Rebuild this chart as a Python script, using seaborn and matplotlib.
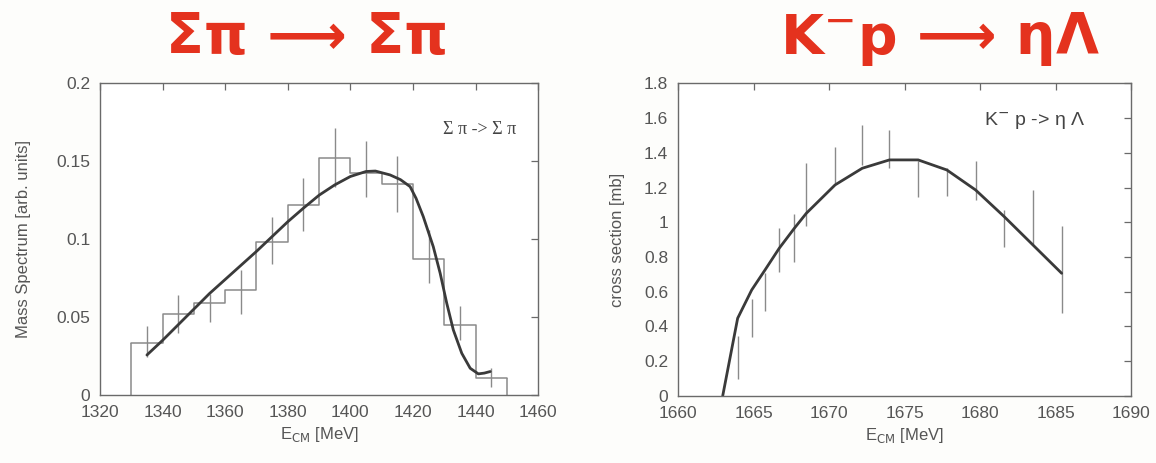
import matplotlib
matplotlib.use("Agg")
import matplotlib.pyplot as plt
import numpy as np
import pandas as pd
import seaborn as sns
from matplotlib.ticker import FuncFormatter, MultipleLocator

# ---- Sigma pi -> Sigma pi : mass spectrum (10 MeV bins) ----
bin_edges = [1330, 1340, 1350, 1360, 1370, 1380, 1390, 1400, 1410, 1420, 1430, 1440, 1450]
spectrum = [0.033, 0.052, 0.059, 0.067, 0.098, 0.122, 0.152, 0.142, 0.135, 0.087, 0.045, 0.011]
spec_err_x = [1335, 1345, 1355, 1365, 1375, 1385, 1395, 1405, 1415, 1425, 1435, 1445]
spec_err_y = [0.034, 0.052, 0.056, 0.066, 0.099, 0.122, 0.152, 0.145, 0.135, 0.089, 0.046, 0.011]
spec_err = [0.010, 0.012, 0.009, 0.014, 0.015, 0.017, 0.019, 0.018, 0.018, 0.017, 0.011, 0.006]

spec_fit_e = [1335, 1340, 1345, 1350, 1355, 1360, 1365, 1370, 1375, 1380, 1385, 1390,
              1395, 1400, 1405, 1408, 1412.7, 1416, 1419.1, 1421, 1423.3, 1426.5, 1428.7,
              1430.8, 1432.9, 1435.6, 1438.3, 1440.9, 1442.8, 1444.7]
spec_fit = [0.0256, 0.035, 0.045, 0.055, 0.065, 0.074, 0.083, 0.092, 0.1015, 0.111, 0.1197,
            0.128, 0.1346, 0.140, 0.1432, 0.1435, 0.141, 0.138, 0.1335, 0.126, 0.1143, 0.095,
            0.078, 0.0588, 0.0417, 0.0267, 0.0171, 0.0135, 0.0140, 0.015]

# ---- K- p -> eta Lambda : cross section ----
xs_e = [1663.95, 1664.88, 1665.76, 1666.7, 1667.7, 1668.5, 1670.4, 1672.2, 1674.0,
        1675.9, 1677.8, 1679.7, 1681.6, 1683.5, 1685.4]
xs = [0.22, 0.45, 0.60, 0.84, 0.91, 1.16, 1.33, 1.445, 1.42, 1.25, 1.23, 1.24, 0.965, 1.03, 0.73]
xs_err = [0.125, 0.11, 0.11, 0.125, 0.14, 0.18, 0.105, 0.115, 0.11, 0.105, 0.08, 0.11, 0.105, 0.155, 0.25]

xs_fit_e = [1662.96, 1663.95, 1664.88, 1665.76, 1666.7, 1667.7, 1668.5, 1670.4, 1672.2,
            1674.0, 1675.9, 1677.8, 1679.7, 1681.6, 1683.5, 1685.4]
xs_fit = [0.0, 0.447, 0.61, 0.725, 0.85, 0.965, 1.052, 1.215, 1.311, 1.359, 1.359,
          1.301, 1.186, 1.032, 0.869, 0.706]

sns.set_theme(style="white")
plt.rcParams["font.family"] = ["Liberation Sans", "DejaVu Sans"]

GREY_TXT = "#555555"
FRAME = "#6a6a6a"
HIST = "#8a8a8a"
CURVE = "#3a3a3a"
RED = "#e4321e"

fig = plt.figure(figsize=(11.56, 4.63), dpi=100)
fig.patch.set_facecolor("#fdfdfb")
ax1 = fig.add_axes([0.0865, 0.147, 0.379, 0.674])
ax2 = fig.add_axes([0.5865, 0.145, 0.392, 0.675])

gfmt = FuncFormatter(lambda v, p: f"{v:g}")


def style_axes(ax):
    ax.set_facecolor("white")
    for s in ax.spines.values():
        s.set_color(FRAME)
        s.set_linewidth(1.0)
    ax.tick_params(direction="in", length=5, width=0.9, color=FRAME,
                   top=True, right=True, labelsize=12.5, labelcolor=GREY_TXT, pad=7)
    ax.yaxis.set_major_formatter(gfmt)
    ax.xaxis.set_major_formatter(gfmt)


# Left panel: histogram, error bars and fit curve
centers = [(a + b) / 2 for a, b in zip(bin_edges[:-1], bin_edges[1:])]
sns.histplot(x=centers, weights=spectrum, bins=bin_edges, element="step",
             fill=False, color=HIST, linewidth=1.1, ax=ax1)
ax1.vlines([bin_edges[0], bin_edges[-1]], 0, [spectrum[0], spectrum[-1]],
           color=HIST, linewidth=1.1)
ax1.errorbar(spec_err_x, spec_err_y, yerr=spec_err, fmt="none", ecolor=HIST,
             elinewidth=1.0, capsize=0)
sns.lineplot(x=spec_fit_e, y=spec_fit, sort=False, estimator=None, color=CURVE,
             linewidth=2.0, ax=ax1)
ax1.set_xlim(1320, 1460)
ax1.set_ylim(0, 0.2)
ax1.xaxis.set_major_locator(MultipleLocator(20))
ax1.yaxis.set_major_locator(MultipleLocator(0.05))
style_axes(ax1)
ax1.set_xlabel("E$_{\\mathrm{CM}}$ [MeV]", fontsize=12, color=GREY_TXT, labelpad=4)
ax1.set_ylabel("Mass Spectrum [arb. units]", fontsize=12, color=GREY_TXT, labelpad=18)
ax1.text(0.95, 0.85, "Σ π -> Σ π", transform=ax1.transAxes, ha="right", va="center",
         fontsize=13, color="#444444", family=["Liberation Serif", "DejaVu Serif"])

# Right panel: cross-section data and fit
ax2.errorbar(xs_e, xs, yerr=xs_err, fmt="none", ecolor=HIST, elinewidth=1.0, capsize=0)
sns.lineplot(x=xs_fit_e, y=xs_fit, sort=False, estimator=None, color=CURVE,
             linewidth=2.0, ax=ax2)
ax2.set_xlim(1660, 1690)
ax2.set_ylim(0, 1.8)
ax2.xaxis.set_major_locator(MultipleLocator(5))
ax2.yaxis.set_major_locator(MultipleLocator(0.2))
style_axes(ax2)
ax2.set_xlabel("E$_{\\mathrm{CM}}$ [MeV]", fontsize=12, color=GREY_TXT, labelpad=4)
ax2.set_ylabel("cross section [mb]", fontsize=12, color=GREY_TXT, labelpad=14)
ax2.text(0.90, 0.88, "K$^{-}$ p -> η Λ", transform=ax2.transAxes, ha="right", va="center",
         fontsize=14, color="#444444")

# Hand-written style headers
fig.text(0.266, 0.915, "Σπ ⟶ Σπ", ha="center", va="center", fontsize=40,
         fontweight="bold", color=RED, family=["DejaVu Sans"])
fig.text(0.813, 0.915, "K$^{-}$p ⟶ ηΛ", ha="center", va="center", fontsize=40,
         fontweight="bold", color=RED, family=["DejaVu Sans"])

fig.savefig("out.png", dpi=100, facecolor=fig.get_facecolor())
